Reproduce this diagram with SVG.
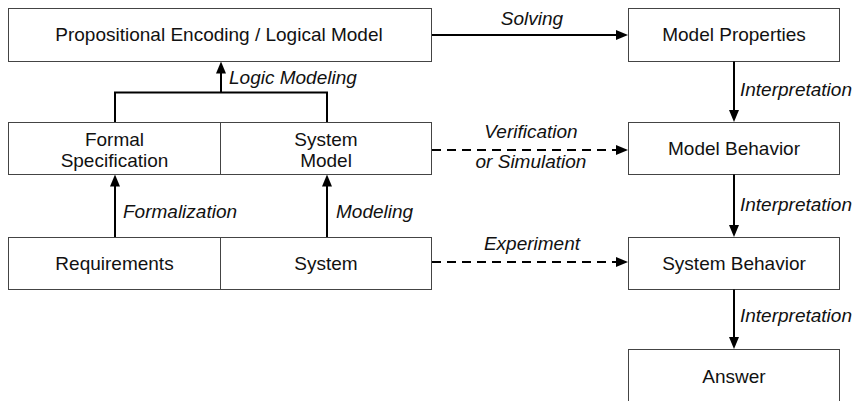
<svg xmlns="http://www.w3.org/2000/svg" width="856" height="401" viewBox="0 0 856 401">
<style>
.box{fill:#fff;stroke:#444;stroke-width:1}
.t{font-family:"Liberation Sans",Arial,sans-serif;font-size:19px;fill:#111;text-anchor:middle}
.l{font-family:"Liberation Sans",Arial,sans-serif;font-size:19px;font-style:italic;fill:#111}
.c{fill:none;stroke:#000;stroke-width:2}
.d{stroke-dasharray:9,6}
</style>
<defs>
<marker id="ah" markerUnits="userSpaceOnUse" markerWidth="12" markerHeight="10" refX="6" refY="5" orient="auto">
<path d="M0,0 L12,5 L0,10 z" fill="#000"/>
</marker>
</defs>
<rect x="0" y="0" width="856" height="401" fill="#fff"/>
<g id="n-encoding"><rect class="box" x="8.5" y="8.5" width="423" height="53"/><text class="t" x="219" y="41">Propositional Encoding / Logical Model</text></g>
<g id="n-modelprops"><rect class="box" x="628.5" y="8.5" width="211" height="53"/><text class="t" x="734" y="41">Model Properties</text></g>
<g id="n-formalspec"><rect class="box" x="8.5" y="122.5" width="212" height="52"/><text class="t" x="114.5" y="146">Formal</text><text class="t" x="114.5" y="167">Specification</text></g>
<g id="n-systemmodel"><rect class="box" x="220.5" y="122.5" width="211" height="52"/><text class="t" x="326" y="146">System</text><text class="t" x="326" y="167">Model</text></g>
<g id="n-modelbehavior"><rect class="box" x="628.5" y="122.5" width="211" height="52"/><text class="t" x="734" y="155">Model Behavior</text></g>
<g id="n-requirements"><rect class="box" x="8.5" y="237.5" width="212" height="52"/><text class="t" x="114.5" y="270">Requirements</text></g>
<g id="n-system"><rect class="box" x="220.5" y="237.5" width="211" height="52"/><text class="t" x="326" y="270">System</text></g>
<g id="n-systembehavior"><rect class="box" x="628.5" y="237.5" width="211" height="52"/><text class="t" x="734" y="270">System Behavior</text></g>
<g id="n-answer"><rect class="box" x="628.5" y="349.5" width="211" height="70"/><text class="t" x="734" y="383">Answer</text></g>
<g id="connectors">
<line class="c" x1="432" y1="35" x2="622" y2="35" marker-end="url(#ah)"/>
<path class="c" d="M115,122 V92.5 H327 V122"/>
<line class="c" x1="221" y1="92.5" x2="221" y2="67.5" marker-end="url(#ah)"/>
<line class="c" x1="115" y1="237" x2="115" y2="180.5" marker-end="url(#ah)"/>
<line class="c" x1="327" y1="237" x2="327" y2="180.5" marker-end="url(#ah)"/>
<line class="c d" x1="432" y1="150" x2="622" y2="150" marker-end="url(#ah)"/>
<line class="c d" x1="432" y1="262" x2="622" y2="262" marker-end="url(#ah)"/>
<line class="c" x1="734" y1="61.5" x2="734" y2="116" marker-end="url(#ah)"/>
<line class="c" x1="734" y1="174.5" x2="734" y2="231" marker-end="url(#ah)"/>
<line class="c" x1="734" y1="289.5" x2="734" y2="343" marker-end="url(#ah)"/>
<text class="l" x="532" y="25" text-anchor="middle">Solving</text>
<text class="l" x="229" y="84">Logic Modeling</text>
<text class="l" x="740" y="96">Interpretation</text>
<text class="l" x="531" y="138" text-anchor="middle">Verification</text>
<text class="l" x="531" y="168" text-anchor="middle">or Simulation</text>
<text class="l" x="123" y="218">Formalization</text>
<text class="l" x="336" y="218">Modeling</text>
<text class="l" x="740" y="211">Interpretation</text>
<text class="l" x="532" y="250" text-anchor="middle">Experiment</text>
<text class="l" x="740" y="322">Interpretation</text>
</g>
</svg>
